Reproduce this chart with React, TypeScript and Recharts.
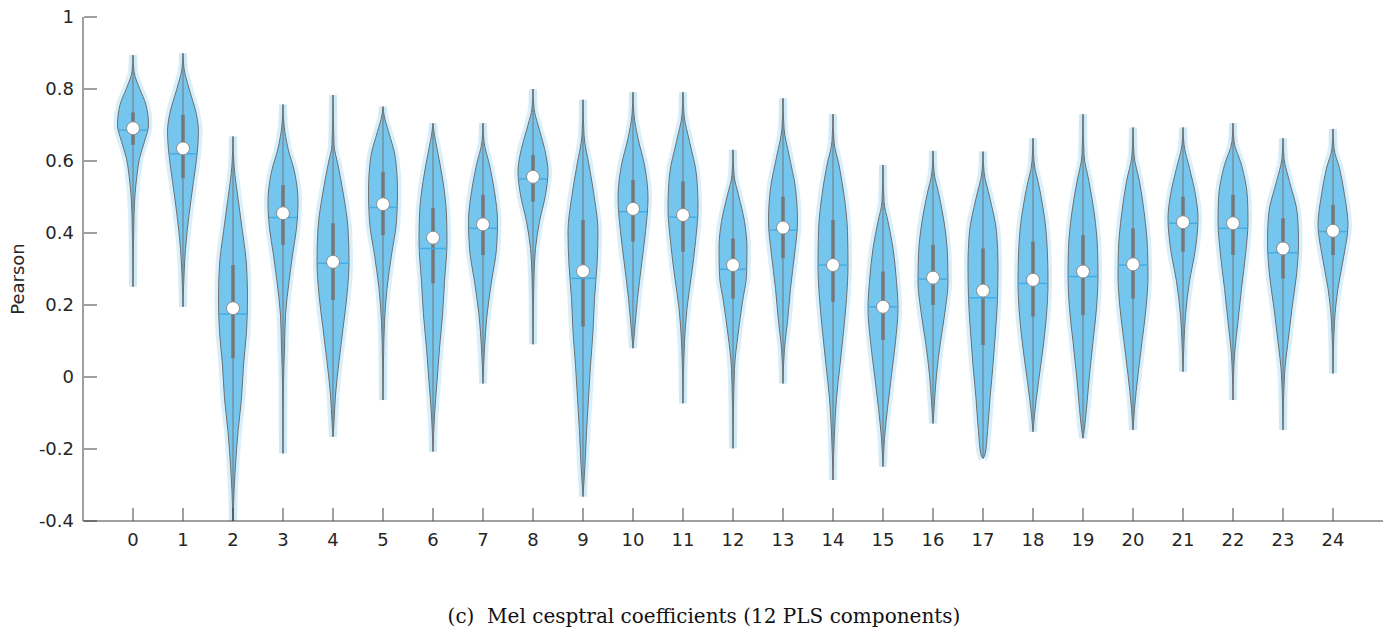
import React from 'react';
import { ComposedChart, Area, XAxis, YAxis, Scatter, ReferenceLine } from 'recharts';

// ---------- data ----------
const categories = [0, 1, 2, 3, 4, 5, 6, 7, 8, 9, 10, 11, 12, 13, 14, 15, 16, 17, 18, 19, 20, 21, 22, 23, 24];
const yTicks = [-0.4, -0.2, 0, 0.2, 0.4, 0.6, 0.8, 1];

const maxVals = [0.894, 0.899, 0.668, 0.757, 0.783, 0.751, 0.705, 0.705, 0.8, 0.77, 0.791, 0.791, 0.631, 0.774, 0.73, 0.589, 0.628, 0.626, 0.663, 0.73, 0.693, 0.693, 0.705, 0.663, 0.689];
const minVals = [0.251, 0.195, -0.4, -0.212, -0.166, -0.064, -0.207, -0.018, 0.091, -0.332, 0.08, -0.073, -0.198, -0.018, -0.286, -0.249, -0.129, -0.226, -0.152, -0.17, -0.147, 0.015, -0.064, -0.147, 0.01];
const medians = [0.691, 0.635, 0.191, 0.455, 0.32, 0.48, 0.387, 0.424, 0.556, 0.294, 0.467, 0.45, 0.311, 0.415, 0.311, 0.195, 0.276, 0.24, 0.27, 0.293, 0.313, 0.43, 0.427, 0.357, 0.406];
const means = [0.686, 0.62, 0.175, 0.443, 0.316, 0.471, 0.357, 0.413, 0.55, 0.274, 0.459, 0.444, 0.299, 0.408, 0.311, 0.195, 0.272, 0.22, 0.26, 0.279, 0.311, 0.427, 0.413, 0.345, 0.404];
const upperQuartiles = [0.735, 0.728, 0.311, 0.533, 0.427, 0.57, 0.47, 0.506, 0.617, 0.436, 0.547, 0.543, 0.385, 0.501, 0.436, 0.293, 0.367, 0.357, 0.376, 0.394, 0.413, 0.501, 0.506, 0.441, 0.478];
const lowerQuartiles = [0.645, 0.552, 0.052, 0.367, 0.214, 0.394, 0.26, 0.339, 0.487, 0.14, 0.376, 0.348, 0.218, 0.33, 0.209, 0.103, 0.2, 0.089, 0.168, 0.172, 0.218, 0.348, 0.339, 0.274, 0.339];

// density outline per violin: [Pearson value, half width in category units]
const violinShapes: [number, number][][] = [
  [[0.251, 0], [0.45, 0.02], [0.506, 0.04], [0.561, 0.08], [0.607, 0.13], [0.654, 0.23], [0.7, 0.31], [0.756, 0.26], [0.802, 0.13], [0.848, 0.02], [0.894, 0]],
  [[0.195, 0], [0.283, 0.02], [0.357, 0.05], [0.45, 0.12], [0.543, 0.21], [0.617, 0.28], [0.682, 0.31], [0.728, 0.27], [0.802, 0.12], [0.857, 0.02], [0.899, 0]],
  [[-0.4, 0], [-0.318, 0.02], [-0.244, 0.05], [-0.152, 0.1], [-0.059, 0.17], [0.033, 0.21], [0.126, 0.27], [0.218, 0.29], [0.311, 0.27], [0.404, 0.19], [0.496, 0.1], [0.589, 0.02], [0.668, 0]],
  [[-0.212, 0], [-0.013, 0.01], [0.08, 0.03], [0.172, 0.05], [0.265, 0.12], [0.339, 0.19], [0.413, 0.27], [0.487, 0.3], [0.57, 0.23], [0.635, 0.1], [0.7, 0.02], [0.757, 0]],
  [[-0.166, 0], [-0.124, 0.02], [-0.05, 0.05], [0.043, 0.12], [0.135, 0.2], [0.228, 0.28], [0.32, 0.32], [0.413, 0.3], [0.506, 0.21], [0.589, 0.1], [0.645, 0.02], [0.783, 0]],
  [[-0.064, 0], [0.05, 0.01], [0.154, 0.03], [0.246, 0.08], [0.339, 0.17], [0.432, 0.27], [0.515, 0.29], [0.607, 0.25], [0.682, 0.11], [0.728, 0.02], [0.751, 0]],
  [[-0.207, 0], [-0.105, 0.03], [-0.013, 0.08], [0.08, 0.13], [0.172, 0.19], [0.265, 0.23], [0.376, 0.28], [0.45, 0.27], [0.543, 0.2], [0.635, 0.08], [0.68, 0.02], [0.705, 0]],
  [[-0.018, 0], [0.08, 0.03], [0.172, 0.08], [0.265, 0.17], [0.357, 0.27], [0.432, 0.29], [0.515, 0.23], [0.589, 0.13], [0.654, 0.02], [0.705, 0]],
  [[0.091, 0], [0.283, 0.02], [0.357, 0.05], [0.432, 0.13], [0.506, 0.25], [0.57, 0.3], [0.635, 0.23], [0.7, 0.1], [0.746, 0.02], [0.8, 0]],
  [[-0.332, 0], [-0.244, 0.04], [-0.152, 0.07], [-0.059, 0.11], [0.033, 0.15], [0.126, 0.2], [0.218, 0.23], [0.311, 0.28], [0.404, 0.3], [0.496, 0.23], [0.589, 0.12], [0.672, 0.02], [0.77, 0]],
  [[0.08, 0], [0.126, 0.03], [0.218, 0.09], [0.311, 0.17], [0.404, 0.25], [0.496, 0.3], [0.589, 0.23], [0.663, 0.1], [0.728, 0.02], [0.791, 0]],
  [[-0.073, 0], [0.098, 0.03], [0.191, 0.08], [0.283, 0.17], [0.376, 0.25], [0.468, 0.3], [0.561, 0.27], [0.654, 0.13], [0.728, 0.02], [0.791, 0]],
  [[-0.198, 0], [0.024, 0.03], [0.117, 0.1], [0.209, 0.19], [0.283, 0.27], [0.357, 0.28], [0.432, 0.23], [0.506, 0.11], [0.561, 0.02], [0.631, 0]],
  [[-0.018, 0], [0.08, 0.03], [0.154, 0.09], [0.246, 0.15], [0.339, 0.23], [0.432, 0.29], [0.524, 0.25], [0.617, 0.12], [0.691, 0.02], [0.774, 0]],
  [[-0.286, 0], [-0.152, 0.03], [-0.059, 0.07], [0.033, 0.14], [0.126, 0.21], [0.218, 0.27], [0.311, 0.3], [0.404, 0.29], [0.496, 0.23], [0.589, 0.12], [0.654, 0.02], [0.73, 0]],
  [[-0.249, 0], [-0.17, 0.03], [-0.087, 0.09], [0.006, 0.17], [0.098, 0.25], [0.191, 0.3], [0.265, 0.27], [0.357, 0.2], [0.432, 0.1], [0.487, 0.02], [0.589, 0]],
  [[-0.129, 0], [-0.068, 0.03], [0.006, 0.07], [0.098, 0.15], [0.191, 0.25], [0.265, 0.3], [0.339, 0.29], [0.432, 0.22], [0.506, 0.12], [0.57, 0.02], [0.628, 0]],
  [[-0.226, 0], [-0.216, 0.04], [-0.152, 0.09], [-0.059, 0.14], [0.033, 0.2], [0.126, 0.25], [0.218, 0.29], [0.311, 0.3], [0.404, 0.27], [0.496, 0.14], [0.57, 0.02], [0.626, 0]],
  [[-0.152, 0], [-0.105, 0.03], [-0.013, 0.11], [0.08, 0.2], [0.172, 0.27], [0.265, 0.3], [0.339, 0.29], [0.432, 0.24], [0.524, 0.13], [0.598, 0.02], [0.663, 0]],
  [[-0.17, 0], [-0.142, 0.03], [-0.087, 0.07], [0.006, 0.13], [0.098, 0.2], [0.191, 0.27], [0.283, 0.3], [0.357, 0.29], [0.45, 0.23], [0.543, 0.12], [0.617, 0.02], [0.73, 0]],
  [[-0.147, 0], [-0.087, 0.03], [0.006, 0.1], [0.098, 0.18], [0.191, 0.26], [0.283, 0.3], [0.357, 0.29], [0.45, 0.23], [0.543, 0.13], [0.617, 0.02], [0.693, 0]],
  [[0.015, 0], [0.098, 0.02], [0.172, 0.05], [0.265, 0.13], [0.357, 0.25], [0.441, 0.3], [0.506, 0.25], [0.58, 0.13], [0.645, 0.02], [0.693, 0]],
  [[-0.064, 0], [0.061, 0.03], [0.154, 0.1], [0.246, 0.17], [0.339, 0.25], [0.432, 0.3], [0.496, 0.29], [0.589, 0.17], [0.654, 0.02], [0.705, 0]],
  [[-0.147, 0], [0.006, 0.03], [0.098, 0.1], [0.191, 0.18], [0.283, 0.27], [0.376, 0.31], [0.45, 0.29], [0.543, 0.13], [0.607, 0.02], [0.663, 0]],
  [[0.01, 0], [0.154, 0.03], [0.246, 0.1], [0.339, 0.22], [0.422, 0.3], [0.506, 0.23], [0.58, 0.13], [0.635, 0.02], [0.689, 0]],
];

const yLabel = 'Pearson';
const caption = '(c)\u00a0 Mel cesptral coefficients (12 PLS components)';

// ---------- derived tables ----------
const halfWidthAt = (shape: [number, number][], v: number) => {
  for (let k = 0; k < shape.length - 1; k++) {
    const [v0, w0] = shape[k];
    const [v1, w1] = shape[k + 1];
    if (v >= v0 && v <= v1) return w0 + ((w1 - w0) * (v - v0)) / (v1 - v0);
  }
  return 0;
};

const violinData = violinShapes.map((shape, i) =>
  shape.map(([v, w]) => ({ v, band: [categories[i] - w, categories[i] + w] }))
);
const medianData = categories.map((c, i) => ({ x: c, v: medians[i] }));

// ---------- styles ----------
const FONT = '"DejaVu Sans", sans-serif';
const TEXT = '#262626';
const AXIS = '#404040';
const OUTLINE = '#6e6e6e';
const BOX = '#767676';
const FILL = '#74c6ef';
const HALO = '#c9e8f8';
const MEAN = '#45ace3';

const XTick = (props: any) => {
  const { x, y, payload } = props;
  return (
    <g>
      <line x1={x} x2={x} y1={y - 12} y2={y - 25} stroke={AXIS} strokeWidth={1} />
      <text x={x} y={y} dy="0.71em" textAnchor="middle" fill={TEXT} fontSize={18} fontFamily={FONT}>
        {String(payload.value)}
      </text>
    </g>
  );
};

const YTick = (props: any) => {
  const { x, y, payload } = props;
  return (
    <g>
      <line x1={x + 10} x2={x + 23} y1={y} y2={y} stroke={AXIS} strokeWidth={1} />
      <text x={x} y={y} dy="0.36em" textAnchor="end" fill={TEXT} fontSize={18} fontFamily={FONT}>
        {String(payload.value)}
      </text>
    </g>
  );
};

const YLabel = (props: any) => {
  const { viewBox } = props;
  const cx = viewBox.x + 10;
  const cy = viewBox.y + viewBox.height / 2 + 10;
  return (
    <text
      x={cx}
      y={cy}
      transform={`rotate(-90, ${cx}, ${cy})`}
      textAnchor="middle"
      dy="0.36em"
      fill={TEXT}
      fontSize={18}
      fontFamily={FONT}
    >
      {yLabel}
    </text>
  );
};

const MedianDot = (props: any) => {
  const { cx, cy } = props;
  if (cx == null || cy == null) return <g />;
  return <circle cx={cx} cy={cy} r={6.5} fill="#ffffff" stroke="#8a8a8a" strokeWidth={1} />;
};

export default function App() {
  return (
    <div style={{ position: 'absolute', left: 0, top: 0, width: 1397, height: 633, background: '#fff' }}>
      <ComposedChart
        layout="vertical"
        width={1397}
        height={561}
        margin={{ top: 17, right: 14, bottom: 0, left: 8 }}
      >
        <XAxis
          type="number"
          dataKey="x"
          domain={[-1, 25]}
          allowDataOverflow
          ticks={categories}
          interval={0}
          tickLine={false}
          tickSize={0}
          tickMargin={12}
          tick={<XTick />}
          axisLine={{ stroke: AXIS, strokeWidth: 1 }}
          height={40}
        />
        <YAxis
          type="number"
          dataKey="v"
          domain={[-0.4, 1]}
          allowDataOverflow
          reversed
          ticks={yTicks}
          interval={0}
          tickLine={false}
          tickSize={0}
          tickMargin={9}
          tick={<YTick />}
          axisLine={{ stroke: AXIS, strokeWidth: 1 }}
          width={75}
          label={<YLabel />}
        />
        {violinData.map((d, i) => (
          <Area
            key={`halo-${i}`}
            data={d}
            dataKey="band"
            type="monotone"
            fill={HALO}
            fillOpacity={0.5}
            stroke={HALO}
            strokeWidth={8}
            strokeOpacity={0.7}
            dot={false}
            activeDot={false}
            isAnimationActive={false}
          />
        ))}
        {violinData.map((d, i) => (
          <Area
            key={`violin-${i}`}
            data={d}
            dataKey="band"
            type="monotone"
            fill={FILL}
            fillOpacity={1}
            stroke={OUTLINE}
            strokeWidth={1}
            dot={false}
            activeDot={false}
            isAnimationActive={false}
          />
        ))}
        {categories.map((c, i) => (
          <ReferenceLine
            key={`whisker-${i}`}
            segment={[{ x: c, y: minVals[i] }, { x: c, y: maxVals[i] }]}
            stroke={BOX}
            strokeWidth={1}
            ifOverflow="visible"
          />
        ))}
        {categories.map((c, i) => (
          <ReferenceLine
            key={`iqr-${i}`}
            segment={[{ x: c, y: lowerQuartiles[i] }, { x: c, y: upperQuartiles[i] }]}
            stroke={BOX}
            strokeWidth={3.5}
            ifOverflow="visible"
          />
        ))}
        {categories.map((c, i) => {
          const w = halfWidthAt(violinShapes[i], means[i]);
          return (
            <ReferenceLine
              key={`mean-${i}`}
              segment={[{ x: c - w, y: means[i] }, { x: c + w, y: means[i] }]}
              stroke={MEAN}
              strokeWidth={1.5}
              ifOverflow="visible"
            />
          );
        })}
        <Scatter data={medianData} dataKey="v" shape={<MedianDot />} isAnimationActive={false} />
      </ComposedChart>
      <div
        style={{
          position: 'absolute',
          left: 304,
          width: 800,
          top: 604,
          textAlign: 'center',
          fontFamily: '"DejaVu Serif", serif',
          fontSize: 20,
          color: '#111',
          whiteSpace: 'pre',
        }}
      >
        {caption}
      </div>
    </div>
  );
}
